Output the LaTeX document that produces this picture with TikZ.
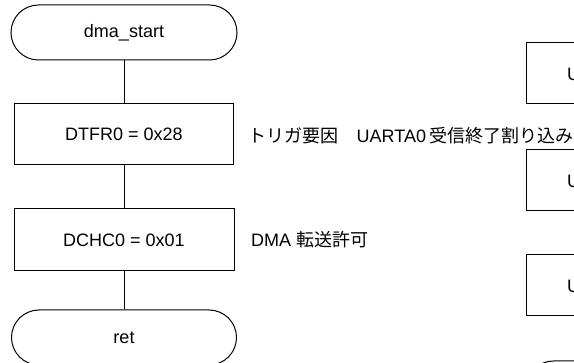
\documentclass[tikz,border=0pt]{standalone}
\usepackage{fontspec}
\setmainfont{Liberation Sans}
\newfontfamily\jp{Noto Sans CJK JP}
\begin{document}
\begin{tikzpicture}[x=1pt,y=-1pt,
  every node/.style={font=\fontsize{18}{21.6}\selectfont},
  term/.style={draw, line width=1pt, rounded corners=27.5pt, inner sep=0pt, minimum height=55pt},
  proc/.style={draw, line width=1pt, inner sep=0pt, minimum height=61pt, minimum width=219pt},
  txt/.style={inner sep=0pt, anchor=west},
  conn/.style={line width=1pt}]
\useasboundingbox (0,0) rectangle (574,363);
\clip (0,0) rectangle (574,363);
% left column
\node[term, minimum width=226pt] (start) at (124,32.5) {dma\_start};
\node[proc] (dtfr) at (124,134) {DTFR0 = 0x28};
\node[proc, minimum height=62pt, minimum width=220pt] (dchc) at (124,240) {DCHC0 = 0x01};
\node[term, minimum width=225pt] (ret) at (124,337.5) {ret};
\draw[conn] (start) -- (dtfr);
\draw[conn] (dtfr) -- (dchc);
\draw[conn] (dchc) -- (ret);
% comments
\node[txt] (l1) at (248.5,135.5) {{\jp トリガ要因　}UARTA0\hspace{3.5pt}{\jp 受信終了割り込み}};
\node[txt] (l2) at (251,240) {DMA {\jp 転送許可}};
% right column (cut off)
\node[proc] (r1) at (635.5,73.5) {};
\node[txt] (u1) at (567,74.5) {U};
\node[proc] (r2) at (635.5,180.5) {};
\node[txt] (u2) at (567,181.5) {U};
\node[proc] (r3) at (635.5,285.5) {};
\node[txt] (u3) at (567,286.5) {U};
\node[term, minimum width=225pt] (rterm) at (638.5,388.5) {};
\end{tikzpicture}
\end{document}
